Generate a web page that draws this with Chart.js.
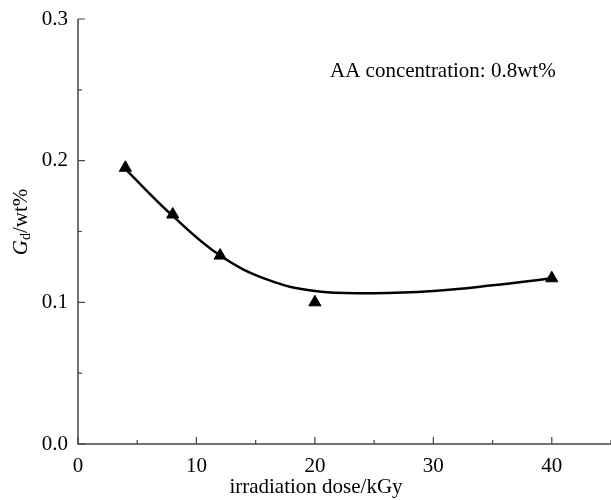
<!DOCTYPE html>
<html>
<head>
<meta charset="utf-8">
<script src="https://cdn.jsdelivr.net/npm/chart.js@4"></script>
<style>
  body { margin: 0; background: #fff; overflow: hidden; }
</style>
</head>
<body>
<canvas id="grafico" width="611" height="500"></canvas>
<script>
// dados
const dose = [4, 8, 12, 20, 40];
const gd = [0.195, 0.162, 0.133, 0.100, 0.117];

// curva ajustada
const curvaX = [4, 8, 12, 16, 20, 25, 30, 35, 40];
const curvaY = [0.194, 0.161, 0.133, 0.116, 0.108, 0.1065, 0.108, 0.112, 0.117];

const xTicks = [0, 10, 20, 30, 40];
const yTicks = [0.0, 0.1, 0.2, 0.3];
const anotacao = 'AA concentration: 0.8wt%';
const tituloX = 'irradiation dose/kGy';

const fonte = '"Liberation Serif", "Times New Roman", serif';

// eixos com ticks para dentro, ticks menores e títulos
const eixosPlugin = {
    id: 'eixos',
    afterDraw(chart) {
        const ctx = chart.ctx;
        const x = chart.scales.x, y = chart.scales.y;
        const a = chart.chartArea;
        ctx.save();
        ctx.strokeStyle = '#444';
        ctx.lineWidth = 1.5;
        ctx.beginPath();
        ctx.moveTo(a.left, a.top);
        ctx.lineTo(a.left, a.bottom);
        ctx.lineTo(a.right, a.bottom);
        ctx.stroke();

        ctx.lineWidth = 1.2;
        ctx.beginPath();
        for (let v = 0; v <= 45; v += 5) {
            const px = x.getPixelForValue(v);
            const len = v % 10 === 0 ? 7 : 4;
            ctx.moveTo(px, a.bottom);
            ctx.lineTo(px, a.bottom - len);
        }
        for (let i = 0; i <= 6; i++) {
            const v = i * 0.05;
            const py = y.getPixelForValue(v);
            const len = i % 2 === 0 ? 7 : 4;
            ctx.moveTo(a.left, py);
            ctx.lineTo(a.left + len, py);
        }
        ctx.stroke();

        // anotação
        ctx.fillStyle = '#000';
        ctx.font = '21px ' + fonte;
        ctx.textBaseline = 'middle';
        ctx.textAlign = 'left';
        ctx.fillText(anotacao, 330, 71);

        // título do eixo x
        ctx.textAlign = 'center';
        ctx.fillText(tituloX, 316, 487);
        ctx.textAlign = 'left';

        // título do eixo y: G_d/wt%
        ctx.translate(21, 222);
        ctx.rotate(-Math.PI / 2);
        ctx.font = 'italic 21px ' + fonte;
        const wG = ctx.measureText('G').width;
        ctx.font = '14px ' + fonte;
        const wd = ctx.measureText('d').width;
        ctx.font = '21px ' + fonte;
        const wR = ctx.measureText('/wt%').width;
        let pos = -(wG + wd + wR) / 2;
        ctx.font = 'italic 21px ' + fonte;
        ctx.fillText('G', pos, 0);
        pos += wG;
        ctx.font = '14px ' + fonte;
        ctx.fillText('d', pos, 5);
        pos += wd;
        ctx.font = '21px ' + fonte;
        ctx.fillText('/wt%', pos, 0);
        ctx.restore();
    }
};

function criarGrafico(id) {
    const ctx = document.getElementById(id).getContext('2d');
    new Chart(ctx, {
        type: 'scatter',
        data: {
            datasets: [
                {
                    label: 'ajuste',
                    data: curvaX.map((v, i) => ({ x: v, y: curvaY[i] })),
                    showLine: true,
                    borderColor: '#000',
                    borderWidth: 2.5,
                    pointRadius: 0,
                    tension: 0.4,
                    fill: false,
                },
                {
                    label: 'Gd',
                    data: dose.map((v, i) => ({ x: v, y: gd[i] })),
                    pointStyle: 'triangle',
                    pointRadius: 7,
                    backgroundColor: '#000',
                    borderColor: '#000',
                    borderWidth: 1,
                }
            ]
        },
        options: {
            responsive: false,
            animation: false,
            layout: { autoPadding: false, padding: { top: 19, right: 0, left: 0, bottom: 0 } },
            plugins: { legend: { display: false }, tooltip: { enabled: false } },
            scales: {
                x: {
                    type: 'linear',
                    min: 0,
                    max: 45,
                    afterBuildTicks: s => { s.ticks = xTicks.map(v => ({ value: v })); },
                    afterFit: s => { s.height = 56; s.paddingRight = 0; },
                    grid: { display: false, drawTicks: false },
                    border: { display: false },
                    ticks: {
                        color: '#000',
                        font: { family: fonte, size: 21 },
                        padding: 10,
                        maxRotation: 0,
                    }
                },
                y: {
                    min: 0,
                    max: 0.3,
                    afterBuildTicks: s => { s.ticks = yTicks.map(v => ({ value: v })); },
                    afterFit: s => { s.width = 78; s.paddingTop = 0; s.paddingBottom = 0; },
                    grid: { display: false, drawTicks: false },
                    border: { display: false },
                    ticks: {
                        color: '#000',
                        font: { family: fonte, size: 21 },
                        padding: 10,
                        callback: v => v.toFixed(1),
                    }
                }
            }
        },
        plugins: [eixosPlugin]
    });
}

criarGrafico('grafico');
</script>
</body>
</html>
